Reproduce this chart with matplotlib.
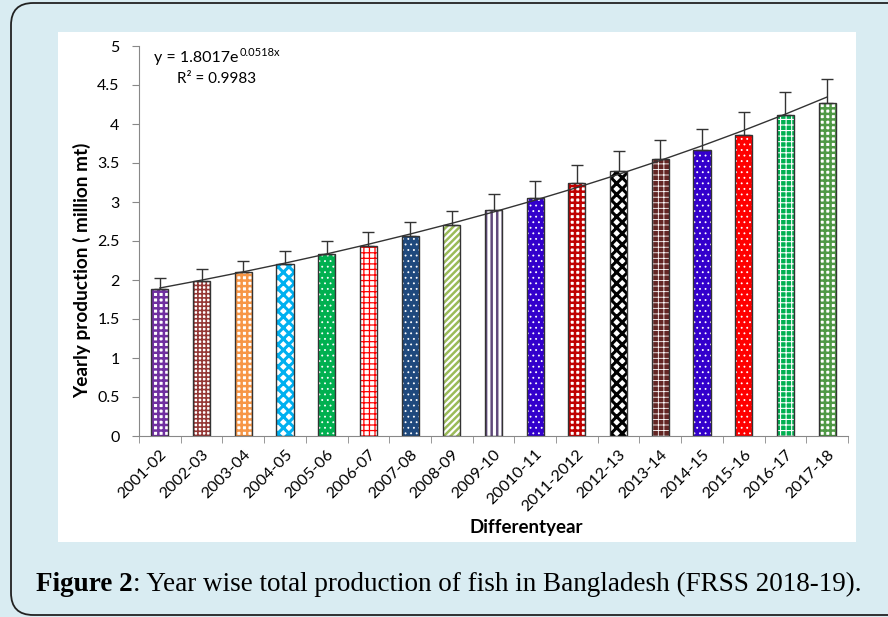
import numpy as np
import matplotlib.pyplot as plt
from matplotlib.patches import FancyBboxPatch, Rectangle

years = ["2001-02", "2002-03", "2003-04", "2004-05", "2005-06", "2006-07",
         "2007-08", "2008-09", "2009-10", "20010-11", "2011-2012", "2012-13",
         "2013-14", "2014-15", "2015-16", "2016-17", "2017-18"]
production = [1.88, 1.99, 2.10, 2.21, 2.33, 2.43, 2.56, 2.70, 2.90, 3.05,
              3.25, 3.40, 3.55, 3.67, 3.86, 4.11, 4.27]
errors = [0.14, 0.15, 0.15, 0.16, 0.17, 0.18, 0.18, 0.19, 0.20, 0.22,
          0.23, 0.25, 0.25, 0.26, 0.29, 0.30, 0.31]

# exponential trendline reported on the chart
trend_a = 1.8017
trend_b = 0.0518
r_squared = 0.9983

face_colors = ["white", "white", "white", "white", "#00b050", "white",
               "#1f497d", "white", "white", "#3300cc", "white", "white",
               "#632523", "#3300cc", "#ff0000", "#00b050", "white"]
hatch_colors = ["#7030a0", "#953735", "#f79646", "#00b0f0", "white", "#ff0000",
                "white", "#9bbb59", "#604a7b", "white", "#c00000", "black",
                "white", "white", "white", "white", "#4f9a45"]
hatches = ["+++", "++++", "+++", "xxx", "...", "+++",
           "...", "/////", "|||", "...", "+++", "xxx",
           "+++", "...", "...", "+++", "+++"]
hatch_widths = [1.8, 1.2, 1.8, 2.2, 0.6, 0.9,
                0.6, 1.8, 1.8, 0.6, 1.8, 2.2,
                0.6, 0.6, 0.6, 0.8, 1.8]

plt.rcParams['font.family'] = ['Lato', 'DejaVu Sans']

W, H = 888, 617
fig = plt.figure(figsize=(W / 100, H / 100), dpi=100)
fig.patch.set_facecolor("#d9ecf2")

# outer rounded frame and white chart panel
frame = FancyBboxPatch((11 / W, 2 / H), 900 / W, 612 / H,
                       boxstyle="round,pad=0,rounding_size=0.025",
                       transform=fig.transFigure, facecolor="none",
                       edgecolor="#222222", linewidth=1.3, mutation_aspect=W / H,
                       zorder=-2)
fig.patches.append(frame)
panel = Rectangle((58 / W, 1 - 542 / H), (856 - 58) / W, (542 - 32) / H,
                  transform=fig.transFigure, facecolor="white", edgecolor="none",
                  zorder=-1)
fig.patches.append(panel)

ax = fig.add_axes([139 / W, 1 - 436 / H, (848 - 139) / W, (436 - 46) / H])
ax.set_facecolor("none")
ax.set_zorder(2)

x = np.arange(len(years))
width = 0.41
for i in range(len(years)):
    with plt.rc_context({'hatch.linewidth': hatch_widths[i]}):
        b = ax.bar(x[i], production[i], width, color=face_colors[i],
                   edgecolor=hatch_colors[i], hatch=hatches[i], linewidth=0,
                   zorder=2)
    for p in b:
        if hasattr(p, "set_hatch_linewidth"):
            p.set_hatch_linewidth(hatch_widths[i])
    ax.bar(x[i], production[i], width, fill=False, edgecolor="#333333",
           linewidth=1, zorder=3)

ax.errorbar(x, production, yerr=[np.zeros(len(errors)), errors], fmt="none",
            ecolor="#333333", elinewidth=1, capsize=4, capthick=1, zorder=4)

trend = trend_a * np.exp(trend_b * (x + 1))
ax.plot(x, trend, color="#333333", linewidth=1, zorder=5)

ax.set_xlim(-0.5, len(years) - 0.5)
ax.set_ylim(0, 5)
ax.set_yticks(np.arange(0, 5.01, 0.5))
ax.set_yticklabels([f"{v:g}" for v in np.arange(0, 5.01, 0.5)], fontsize=11.5)
ax.set_xticks(x)
ax.set_xticklabels(years, rotation=45, ha="right", rotation_mode="anchor",
                   fontsize=11.5)
ax.set_xticks(np.arange(-0.5, len(years), 1), minor=True)
ax.tick_params(axis="x", which="major", length=0, pad=8)
ax.tick_params(axis="x", which="minor", length=5, color="#888888")
ax.tick_params(axis="y", length=5, color="#888888", pad=9)
for s in ["top", "right"]:
    ax.spines[s].set_visible(False)
for s in ["left", "bottom"]:
    ax.spines[s].set_color("#888888")

eq = fig.text(154 / W, 1 - 62 / H, f"y = {trend_a}e", fontsize=11.5, va="baseline")
fig.text(177 / W, 1 - 83 / H, f"R² = {r_squared}", fontsize=11, va="baseline")

fig.text(82 / W, 1 - 270 / H, "Yearly production ( million mt)", rotation=90,
         fontsize=13.7, fontweight="bold", ha="center", va="center")
fig.text(526 / W, 1 - 527 / H, "Differentyear", fontsize=13.5,
         fontweight="bold", ha="center", va="center")

# caption below the chart panel
cap1 = fig.text(36 / W, 1 - 591 / H, "Figure 2", fontsize=19.5,
                fontweight="bold", family="Liberation Serif", va="baseline")
fig.canvas.draw()
bb = cap1.get_window_extent()
fig.text(bb.x1 / W, 1 - 591 / H,
         ": Year wise total production of fish in Bangladesh (FRSS 2018-19).",
         fontsize=19.5, family="Liberation Serif", va="baseline")
eb = eq.get_window_extent()
fig.text(eb.x1 / W + 1 / W, 1 - 56 / H, f"{trend_b}x", fontsize=8,
         va="baseline", ha="left")

fig.savefig("out.png", dpi=100, facecolor=fig.get_facecolor())
